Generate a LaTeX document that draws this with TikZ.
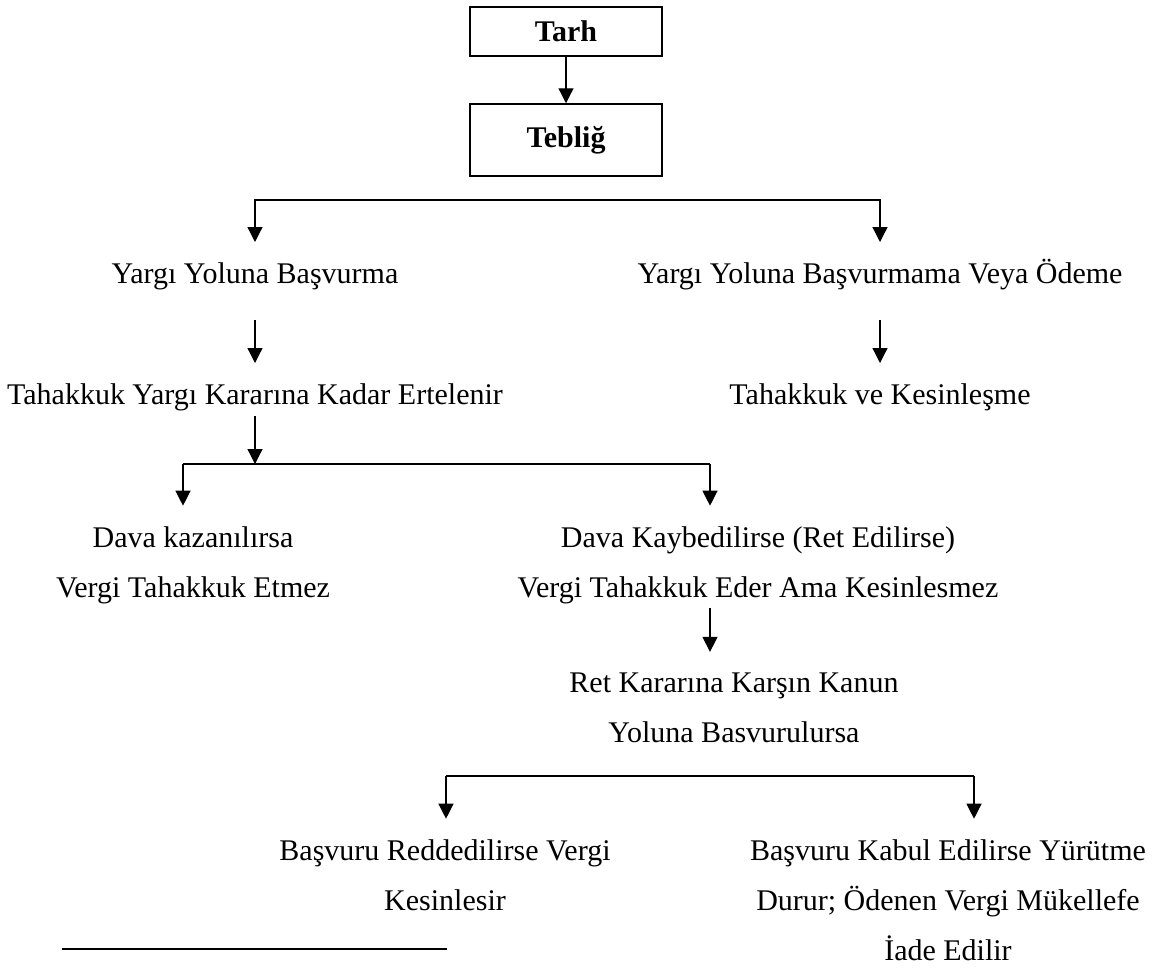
\documentclass[tikz,border=0pt]{standalone}
\usepackage{fontspec}
\setmainfont{Liberation Serif}
\usetikzlibrary{arrows.meta,positioning}

\begin{document}
\begin{tikzpicture}[
    x=0.4pt, y=-0.4pt,
    box/.style={rectangle, draw, line width=0.6pt, minimum width=76.8pt,
                font=\fontsize{12}{14}\selectfont\bfseries, inner sep=0pt},
    lbl/.style={font=\fontsize{12}{20}\selectfont, align=center, inner sep=0pt, anchor=base},
    one/.style={text height=8.2pt, text depth=2.7pt},
    arr/.style={-{Triangle[length=6pt, width=6pt]}, line width=0.5pt, shorten >=8pt},
    bar/.style={line width=0.5pt},
  ]
  \useasboundingbox (0,0) rectangle (1159,967);

  \node[box, minimum height=19.6pt] (tarh) at (566,31.5) {Tarh};
  \node[box, minimum height=28.8pt] (tebl) at (566,140) {Tebliğ};

  \node[lbl, one] (yargi) at (255,283) {Yargı Yoluna Başvurma};
  \node[lbl, one] (odeme) at (880,283) {Yargı Yoluna Başvurmama Veya Ödeme};
  \node[lbl, one] (tahak) at (255,404) {Tahakkuk Yargı Kararına Kadar Ertelenir};
  \node[lbl, one] (kesin) at (880,404) {Tahakkuk ve Kesinleşme};

  % base anchor = last line
  \node[lbl] (kazan) at (193,597) {Dava kazanılırsa\\Vergi Tahakkuk Etmez};
  \node[lbl] (kayb)  at (758,597) {Dava Kaybedilirse (Ret Edilirse)\\Vergi Tahakkuk Eder Ama Kesinlesmez};
  \node[lbl] (ret)   at (734,742) {Ret Kararına Karşın Kanun\\Yoluna Basvurulursa};
  \node[lbl] (redd)  at (445,910) {Başvuru Reddedilirse Vergi\\Kesinlesir};
  \node[lbl] (kabul) at (948,960) {Başvuru Kabul Edilirse Yürütme\\Durur; Ödenen Vergi Mükellefe\\İade Edilir};

  \coordinate (f1)  at (567,200);
  \coordinate (b2l) at (183,464);
  \coordinate (b2r) at (710,464);
  \coordinate (b3l) at (446,776);
  \coordinate (b3r) at (974,776);

  \draw[arr, shorten >=0pt] (tarh) -- (tebl);
  \draw[arr] (f1) -| (yargi);
  \draw[arr] (f1) -| (odeme);
  \draw[arr, shorten <=12pt] (yargi) -- (tahak);
  \draw[arr, shorten <=12pt] (odeme) -- (kesin);
  \draw[arr, shorten <=2pt, shorten >=0pt] (tahak) -- (tahak |- b2l);
  \draw[bar] (b2l) -- (b2r);
  \draw[arr] (b2l) -- (b2l |- kazan.north);
  \draw[arr] (b2r) -- (b2r |- kayb.north);
  \draw[arr, shorten <=1.5pt] (kayb.south -| b2r) -- (ret.north -| b2r);
  \draw[bar] (b3l) -- (b3r);
  \draw[arr] (b3l) -- (b3l |- redd.north);
  \draw[arr] (b3r) -- (b3r |- kabul.north);

  % footnote rule
  \draw[line width=0.8pt] (62,949) -- (447,949);
\end{tikzpicture}
\end{document}
